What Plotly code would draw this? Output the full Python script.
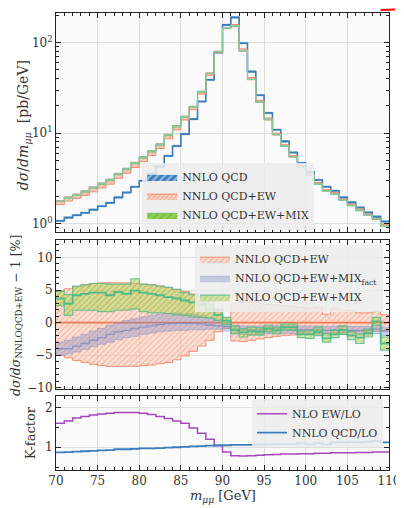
import plotly.graph_objects as go

# ---------------- data ----------------
edges = list(range(70, 111))  # 1 GeV bins, 70..110

# top panel: d sigma / d m  [pb/GeV]
qcd = [1.07, 1.16, 1.23, 1.31, 1.42, 1.55, 1.69, 1.94, 2.2, 2.55,
       2.97, 3.52, 4.27, 5.6, 7.2, 9.75, 14.3, 22.4, 39, 78,
       158, 191, 99, 48, 26.3, 16.7, 10.9, 8.1, 6.1, 4.66,
       3.73, 3.02, 2.55, 2.3, 1.94, 1.71, 1.50, 1.32, 1.19, 1.05]
qcd_ew = [1.70, 1.87, 2.00, 2.17, 2.39, 2.64, 2.91, 3.38, 3.85, 4.46,
          5.17, 6.05, 7.2, 9.2, 11.5, 14.7, 19, 28, 45, 79,
          145, 155, 83, 40, 22.4, 14.3, 9.75, 7.24, 5.52, 4.27,
          3.46, 2.77, 2.34, 2.15, 1.83, 1.61, 1.42, 1.25, 1.12, 0.97]
qcd_unc = [2.0, 2.0, 2.0, 2.0, 2.0, 2.0, 2.0, 2.0, 2.0, 2.0,
           2.0, 2.0, 2.0, 2.0, 2.0, 2.0, 2.0, 2.0, 2.0, 2.0,
           2.0, 2.0, 2.0, 2.0, 2.0, 2.0, 2.0, 2.0, 2.0, 2.0,
           2.0, 2.0, 2.0, 2.0, 2.0, 2.0, 2.0, 2.0, 2.0, 2.0]
log_minor_ticks = [0.9, 2, 3, 4, 5, 6, 7, 8, 9, 20, 30, 40, 50, 60, 70, 80, 90, 200]

# middle panel: ratio to NNLO QCD+EW - 1 [%]
ew_up = [4.9, 5.2, 5.5, 5.8, 6.0, 6.1, 6.1, 6.1, 6.1, 6.0,
         5.9, 5.8, 5.6, 5.4, 5.1, 4.8, 4.4, 3.9, 3.2, 2.1,
         0.8, 2.9, 3.2, 3.2, 3.0, 2.8, 2.7, 2.6, 2.5, 2.3,
         2.2, 2.4, 1.3, 2.2, 1.9, 1.9, 1.5, 1.5, 1.7, 1.2]
ew_lo = [-5.0, -5.4, -5.8, -6.1, -6.4, -6.6, -6.7, -6.7, -6.7, -6.7,
         -6.6, -6.5, -6.3, -6.1, -5.7, -5.1, -4.4, -3.6, -2.7, -1.4,
         -0.9, -2.8, -2.9, -2.7, -2.5, -2.3, -2.1, -2.0, -1.9, -1.8,
         -1.7, -1.6, -1.6, -1.5, -1.5, -1.4, -1.4, -1.3, -1.3, -1.2]

fact_c = [-4.0, -4.0, -3.6, -3.2, -2.7, -2.3, -1.8, -1.4, -1.2, -0.9,
          -0.7, -0.5, -0.3, -0.15, -0.1, -0.1, -0.1, -0.2, -0.4, -0.5,
          -0.6, -1.0, -1.1, -1.1, -1.1, -1.0, -1.0, -1.0, -1.0, -1.1,
          -1.1, -1.1, -1.2, -1.1, -1.1, -1.2, -1.2, -1.2, -1.0, -1.3]
fact_up = [-3.0, -2.7, -2.2, -1.8, -1.3, -0.9, -0.4, 0.0, 0.35, 0.6,
           0.9, 1.1, 1.3, 1.4, 1.5, 1.4, 1.3, 1.1, 0.8, 0.35,
           0.0, -0.4, -0.5, -0.5, -0.5, -0.4, -0.4, -0.4, -0.4, -0.5,
           -0.5, -0.5, -0.6, -0.5, -0.5, -0.6, -0.6, -0.6, -0.4, -0.7]
fact_lo = [-5.0, -4.8, -4.5, -4.1, -3.7, -3.3, -3.0, -2.6, -2.3, -2.1,
           -1.8, -1.6, -1.4, -1.3, -1.2, -1.2, -1.1, -1.1, -1.0, -1.0,
           -1.3, -1.7, -1.8, -1.8, -1.8, -1.7, -1.7, -1.7, -1.7, -1.8,
           -1.8, -1.8, -1.9, -1.8, -1.8, -1.9, -1.9, -1.9, -1.7, -2.0]

mix_c = [3.7, 2.9, 4.2, 4.4, 4.6, 4.6, 4.2, 4.7, 4.4, 4.9,
         4.6, 4.4, 4.2, 3.9, 3.7, 3.4, 3.1, 2.8, 2.0, 1.2,
         0.3, -1.1, -1.5, -1.3, -1.4, -0.9, -1.2, -0.7, -0.7, -1.8,
         -1.8, -1.4, -2.4, -1.8, -1.1, -2.0, -2.3, -1.6, 0.2, -3.2]
mix_up = [4.8, 4.3, 5.6, 5.8, 6.0, 6.0, 5.9, 5.9, 5.9, 6.7,
          5.9, 5.8, 5.6, 5.4, 5.1, 4.6, 4.3, 3.9, 2.8, 2.0,
          0.8, -0.5, -0.9, -0.7, -0.8, -0.4, -0.7, -0.2, -0.2, -1.3,
          -1.2, -0.7, -1.7, -1.2, -0.5, -1.4, -1.7, -1.0, 0.8, -2.2]
mix_lo = [2.6, 1.1, 1.9, 1.9, 1.9, 1.7, 1.7, 1.9, 1.9, 2.1,
          1.7, 1.5, 1.5, 1.4, 1.2, 1.1, 0.9, 0.8, 0.7, 0.4,
          -0.3, -1.7, -2.2, -1.9, -1.9, -1.4, -1.7, -1.2, -1.2, -2.3,
          -2.4, -2.0, -3.0, -2.3, -1.8, -2.6, -3.2, -2.2, -0.4, -4.2]

# bottom panel: K-factors
k_ew = [1.6, 1.66, 1.73, 1.77, 1.81, 1.83, 1.85, 1.87, 1.87, 1.87,
        1.85, 1.82, 1.77, 1.72, 1.66, 1.6, 1.48, 1.35, 1.2, 1.04,
        0.88, 0.79, 0.78, 0.79, 0.80, 0.81, 0.82, 0.83, 0.83, 0.84,
        0.84, 0.85, 0.85, 0.86, 0.86, 0.86, 0.87, 0.87, 0.88, 0.88]
k_qcd = [0.87, 0.88, 0.89, 0.90, 0.91, 0.92, 0.93, 0.95, 0.95, 0.96,
         0.97, 0.97, 0.98, 0.99, 1.0, 1.01, 1.02, 1.03, 1.04, 1.05,
         1.05, 1.06, 1.06, 1.06, 1.07, 1.07, 1.08, 1.08, 1.08, 1.1,
         1.07, 1.1, 1.07, 1.12, 1.12, 1.13, 1.13, 1.14, 1.16, 1.12]

# ---------------- helpers ----------------
def step(v):
    return list(v) + [v[-1]]

def scale(base, rel):
    return [b * (1 + r / 100.0) for b, r in zip(base, rel)]

BLUE = "#3a7ebf"
ORANGE = "#f47a52"
GREEN = "#52b98c"
LIME = "#8fd14f"
PURPLE = "#a747c0"
FONT = "DejaVu Serif"
TXT = "#333"

fig = go.Figure()

def band(lo, up, xa, ya, name, legend, line_col, fill_col, pattern=None,
         showlegend=True, lw=0.8):
    fig.add_trace(go.Scatter(x=edges, y=step(lo), xaxis=xa, yaxis=ya,
                             mode="lines", line=dict(color=line_col, width=lw, shape="hv"),
                             showlegend=False, hoverinfo="skip"))
    kw = dict(x=edges, y=step(up), xaxis=xa, yaxis=ya, mode="lines",
              line=dict(color=line_col, width=lw, shape="hv"),
              fill="tonexty", fillcolor=fill_col, name=name,
              showlegend=showlegend, legend=legend, hoverinfo="skip")
    if pattern is not None:
        kw["fillpattern"] = pattern
    fig.add_trace(go.Scatter(**kw))

def line(vals, xa, ya, col, w, name=None, legend=None, showlegend=False):
    fig.add_trace(go.Scatter(x=edges, y=step(vals), xaxis=xa, yaxis=ya, mode="lines",
                             line=dict(color=col, width=w, shape="hv"),
                             name=name, legend=legend, showlegend=showlegend,
                             hoverinfo="skip"))

# ---- top panel ----
band(scale(qcd, [-u for u in qcd_unc]), scale(qcd, qcd_unc), "x", "y", "NNLO QCD", "legend",
     "rgba(58,126,191,0.35)", "rgba(58,126,191,0.35)",
     pattern=dict(shape="/", fgcolor="white", bgcolor=BLUE, size=5, solidity=0.4, fillmode="overlay"))
line(qcd, "x", "y", BLUE, 1.6)
band(scale(qcd_ew, ew_lo), scale(qcd_ew, ew_up), "x", "y", "NNLO QCD+EW", "legend",
     ORANGE, "rgba(250,170,140,0.5)",
     pattern=dict(shape="/", fgcolor=ORANGE, bgcolor="rgba(252,195,175,0.7)", size=3, solidity=0.3))
band(scale(qcd_ew, mix_lo), scale(qcd_ew, mix_up), "x", "y", "NNLO QCD+EW+MIX", "legend",
     "rgba(82,185,140,0.6)", "rgba(143,209,79,0.5)",
     pattern=dict(shape="/", fgcolor="#6aa83a", bgcolor=LIME, size=5, solidity=0.35))
line(scale(qcd_ew, mix_c), "x", "y", "#8cc79f", 1.4)

# ---- middle panel ----
band(ew_lo, ew_up, "x2", "y2", "NNLO QCD+EW", "legend2",
     ORANGE, "rgba(250,170,140,0.4)",
     pattern=dict(shape="/", fgcolor="rgba(244,122,82,0.85)", bgcolor="rgba(252,205,188,0.55)",
                  size=4, solidity=0.3))
fig.add_trace(go.Scatter(x=[edges[0], edges[-1]], y=[0, 0], xaxis="x2", yaxis="y2", mode="lines",
                         line=dict(color=ORANGE, width=1.6), showlegend=False, hoverinfo="skip"))
band(fact_lo, fact_up, "x2", "y2", "NNLO QCD+EW+MIX<sub>fact</sub>", "legend2",
     "rgba(125,140,200,0.55)", "rgba(125,140,200,0.38)")
line(fact_c, "x2", "y2", "rgba(120,135,196,0.75)", 1.3)
band(mix_lo, mix_up, "x2", "y2", "NNLO QCD+EW+MIX", "legend2",
     "rgba(82,185,140,0.8)", "rgba(160,205,60,0.45)",
     pattern=dict(shape="/", fgcolor="rgba(110,170,40,0.6)", bgcolor="rgba(175,215,80,0.45)", size=4, solidity=0.3),
     lw=1.2)
line(mix_c, "x2", "y2", GREEN, 1.8)

# ---- bottom panel ----
line(k_ew, "x3", "y3", PURPLE, 1.5, "NLO EW/LO", "legend3", True)
line(k_qcd, "x3", "y3", BLUE, 1.8, "NNLO QCD/LO", "legend3", True)

# ---------------- layout ----------------
axis_common = dict(showline=True, linecolor="#222", linewidth=1, mirror="ticks",
                   ticks="inside", ticklen=5, tickcolor="#222",
                   showgrid=True, gridcolor="#dedede", gridwidth=1, zeroline=False,
                   tickfont=dict(family=FONT, size=12, color=TXT))
minor_x = dict(ticks="inside", ticklen=3, dtick=1, tickcolor="#222", showgrid=False)

xr = [70, 110]
leg_common = dict(bgcolor="rgba(236,236,236,0.85)", font=dict(family=FONT, size=11, color=TXT),
                  itemwidth=30, traceorder="normal", tracegroupgap=0)
fig.update_layout(
    width=396, height=500,
    margin=dict(l=48, r=12, t=4, b=38),
    paper_bgcolor="white", plot_bgcolor="#fafafa",
    font=dict(family=FONT, size=11, color=TXT),
    xaxis=dict(domain=[0, 1], anchor="y", range=xr, dtick=5, showticklabels=False,
               minor=minor_x, **axis_common),
    yaxis=dict(domain=[0.5218, 1], anchor="x", type="log", range=[-0.09, 2.33],
               tickvals=[1, 10, 100], ticktext=["10<sup>0</sup>", "10<sup>1</sup>", "10<sup>2</sup>"],
               minor=dict(ticks="inside", ticklen=3, tickcolor="#222", showgrid=False,
                          tickmode="array", tickvals=log_minor_ticks), **axis_common),
    xaxis2=dict(domain=[0, 1], anchor="y2", range=xr, dtick=5, showticklabels=False,
                minor=minor_x, **axis_common),
    yaxis2=dict(domain=[0.1769, 0.5022], anchor="x2", range=[-10.2, 12.6],
                tickvals=[-10, -5, 0, 5, 10], ticktext=["\u221210", "\u22125", "0", "5", "10"],
                minor=dict(ticks="inside", ticklen=3, dtick=1, tickcolor="#222", showgrid=False), **axis_common),
    xaxis3=dict(domain=[0, 1], anchor="y3", range=xr, dtick=5, minor=minor_x, **axis_common),
    yaxis3=dict(domain=[0, 0.1616], anchor="x3", range=[0.43, 2.28], tickvals=[1, 2],
                minor=dict(ticks="inside", ticklen=3, dtick=0.5, tickcolor="#222", showgrid=False), **axis_common),
    legend=dict(x=0.259, y=0.526, xanchor="left", yanchor="bottom", **leg_common),
    legend2=dict(x=0.982, y=0.493, xanchor="right", yanchor="top", **leg_common),
    legend3=dict(x=0.982, y=0.155, xanchor="right", yanchor="top", **leg_common),
    annotations=[
        dict(text="<i>dσ</i>/<i>dm</i><sub><i>μμ</i></sub>  [pb/GeV]", xref="paper", yref="paper",
             x=-0.095, y=0.755, xanchor="center", yanchor="middle", textangle=-90, showarrow=False,
             font=dict(family=FONT, size=14, color=TXT)),
        dict(text="<i>dσ</i>/<i>dσ</i><sub>NNLOQCD+EW</sub> \u2212 1 [%]", xref="paper", yref="paper",
             x=-0.119, y=0.338, xanchor="center", yanchor="middle", textangle=-90, showarrow=False,
             font=dict(family=FONT, size=12.5, color=TXT)),
        dict(text="K-factor", xref="paper", yref="paper",
             x=-0.074, y=0.081, xanchor="center", yanchor="middle", textangle=-90, showarrow=False,
             font=dict(family=FONT, size=13, color=TXT)),
        dict(text="<i>m</i><sub><i>μμ</i></sub> [GeV]", xref="paper", yref="paper",
             x=0.5, y=-0.059, xanchor="center", yanchor="middle", showarrow=False,
             font=dict(family=FONT, size=13, color=TXT)),
    ],
    shapes=[dict(type="line", xref="paper", yref="paper", x0=0.975, x1=1.018, y0=1.0066, y1=1.0075,
                 line=dict(color="red", width=2))],
)

fig.write_html("out.html")
